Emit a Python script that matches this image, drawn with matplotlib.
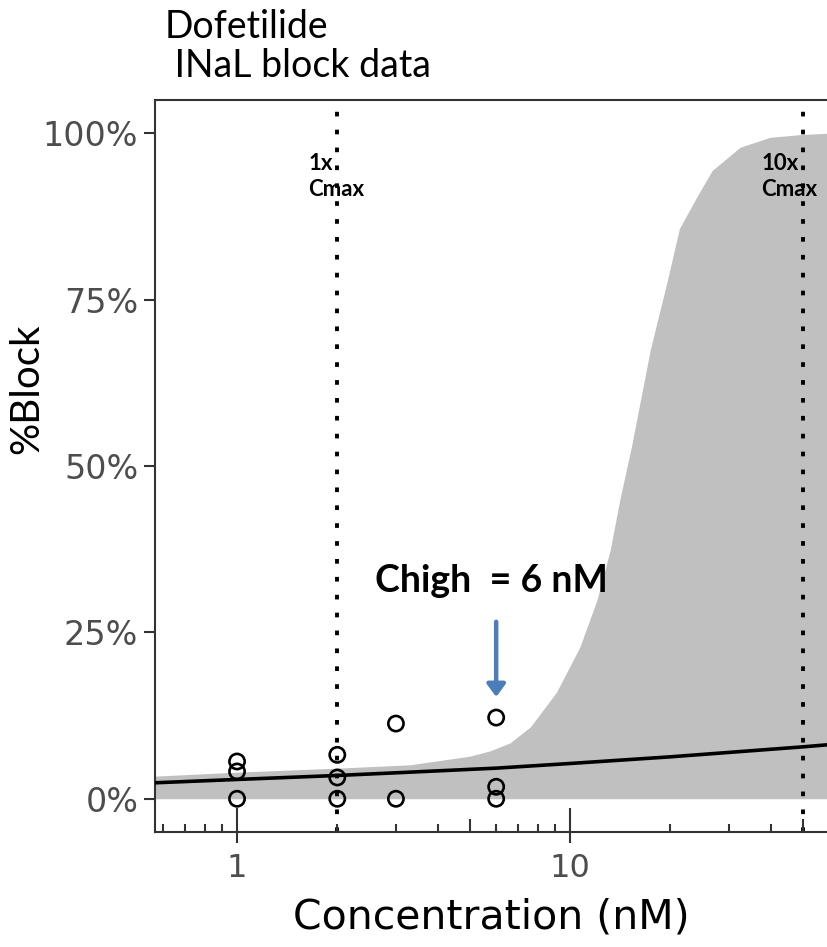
import matplotlib
matplotlib.use("Agg")
import matplotlib.pyplot as plt
import matplotlib.transforms as mtransforms
from matplotlib.ticker import FuncFormatter, NullLocator

# observed block (%) at each concentration (nM)
obs_conc = [1, 1, 1, 2, 2, 2, 3, 3, 6, 6, 6]
obs_block = [5.6, 4.1, 0.0, 6.6, 3.2, 0.0, 11.3, 0.0, 12.2, 1.8, 0.0]

# fitted curve
fit_conc = [0.567, 1, 2, 3, 6, 10, 20, 50, 59]
fit_block = [2.4, 2.9, 3.5, 3.9, 4.6, 5.3, 6.3, 7.8, 8.1]

# uncertainty band (lower edge sits at 0)
band_conc = [0.567, 1, 2, 3.3, 5.0, 5.75, 6.6, 7.6, 9.1, 10.7, 12.05, 13.2,
             14.1, 15.3, 17.4, 19.6, 21.3, 24.0, 26.7, 32.4, 39.9, 49.1, 59]
band_hi = [3.4, 4.0, 4.6, 5.1, 6.4, 7.2, 8.4, 10.8, 16.0, 22.8, 29.9, 37.4,
           44.9, 53.0, 67.4, 77.9, 85.7, 90.4, 94.4, 97.9, 99.4, 99.8, 100]
band_lo = [0.0] * len(band_conc)

cmax_lines = [2, 50]
cmax_labels = ["1x\nCmax", "10x\nCmax"]
cmax_label_x = [1.64, 37.5]
chigh = 6
y_ticks = [0, 25, 50, 75, 100]

fig = plt.figure(figsize=(8.27, 9.47), dpi=100)
ax = fig.add_axes([0.1874, 0.1214, 0.8126, 0.773])

ax.fill_between(band_conc, band_lo, band_hi, color="#c0c0c0", lw=0, zorder=1)
ax.plot(fit_conc, fit_block, color="black", lw=2.6, zorder=3)
ax.scatter(obs_conc, obs_block, s=120, facecolors="none", edgecolors="black",
           linewidths=1.9, zorder=4)

for xv in cmax_lines:
    ax.axvline(xv, color="black", lw=2.8, ls=(0, (1.2, 3.4)), zorder=2)
for xv, lab in zip(cmax_label_x, cmax_labels):
    ax.text(xv, 90.5, lab, ha="left", va="baseline", fontsize=16,
            fontweight="bold", family="Lato", linespacing=1.35, zorder=5)

ax.annotate("", xy=(chigh, 15.3), xytext=(chigh, 26.6),
            arrowprops=dict(arrowstyle="-|>,head_length=0.75,head_width=0.55",
                            color="#4a7ebb", lw=3.2, shrinkA=0, shrinkB=0))
ax.text(5.8, 31.1, "Chigh  = 6 nM", ha="center", va="baseline", fontsize=27,
        fontweight="bold", family="Lato")

ax.set_xscale("log")
ax.set_xlim(0.567, 59.1)
ax.set_ylim(-5, 105)

ax.set_xticks([1, 10])
ax.set_xticklabels(["1", "10"])
ax.xaxis.set_minor_locator(NullLocator())
ax.set_yticks(y_ticks)
ax.yaxis.set_major_formatter(FuncFormatter(lambda v, p: f"{v:.0f}%"))
ax.tick_params(axis="both", direction="out", length=8, width=1.5,
               color="#333333", labelcolor="#4d4d4d")
ax.tick_params(axis="x", pad=7, labelsize=23)
ax.tick_params(axis="y", pad=4, labelsize=24)

# log ticks along the bottom, inside the panel
trans = mtransforms.blended_transform_factory(ax.transData, ax.transAxes)
for dec in [0.1, 1, 10]:
    for k in range(1, 10):
        xv = k * dec
        if xv < 0.567 or xv > 59.1:
            continue
        h = 0.033 if k == 1 else (0.018 if k == 5 else 0.011)
        ax.plot([xv, xv], [0, h], transform=trans, color="#333333", lw=1.5,
                solid_capstyle="butt", zorder=6)

for side in ["left", "top", "bottom"]:
    ax.spines[side].set_color("#333333")
    ax.spines[side].set_linewidth(1.5)
ax.spines["right"].set_visible(False)

ax.set_xlabel("Concentration (nM)", fontsize=29.5, family="DejaVu Sans",
              labelpad=10)
fig.text(0.0327, 0.589, "%Block", rotation=90, ha="center", va="center",
         fontsize=29, family="Lato")
fig.text(0.199, 0.9599, "Dofetilide", ha="left", va="baseline", fontsize=27,
         family="Lato")
fig.text(0.199, 0.9187, " INaL block data", ha="left", va="baseline",
         fontsize=27, family="Lato")

fig.savefig("out.png", dpi=100)
